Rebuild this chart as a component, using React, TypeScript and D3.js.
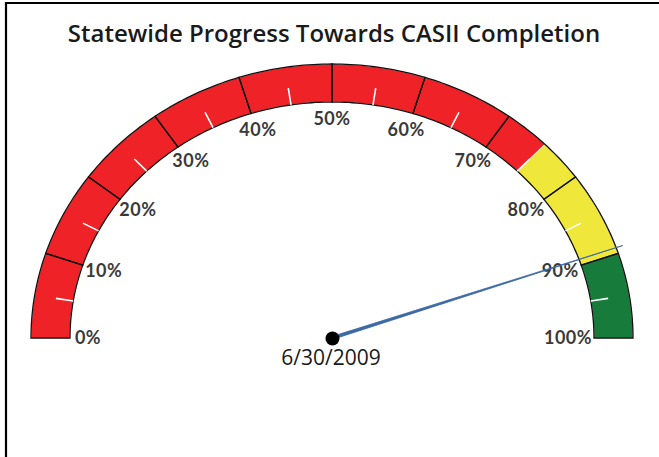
import React from "react";
import * as d3 from "d3";

const title = "Statewide Progress Towards CASII Completion";
const dateLabel = "6/30/2009";
const bandStarts = [0, 75, 90];
const bandEnds = [75, 90, 100];
const bandColors = ["#ee2227", "#efe83b", "#177b3c"];
const majorTicks = [0, 10, 20, 30, 40, 50, 60, 70, 80, 90, 100];
const tickLabels = ["0%", "10%", "20%", "30%", "40%", "50%", "60%", "70%", "80%", "90%", "100%"];
const minorTicks = [5, 15, 25, 35, 45, 55, 65, 75, 85, 95];
const needleValue = 89.3;

const W = 659;
const H = 457;
const cx = 332;
const cy = 338;
const outer = { rx: 301, ry: 274 };
const inner = { rx: 262, ry: 236 };
const labelR = { rx: 240, ry: 219 };
const FONT = "Lato, 'Open Sans', sans-serif";
const TITLE_FONT = "'Open Sans', Lato, sans-serif";

const angle = d3.scaleLinear().domain([0, 100]).range([Math.PI, 0]);

function pt(v: number, r: { rx: number; ry: number }): [number, number] {
  const a = angle(v);
  return [cx + r.rx * Math.cos(a), cy - r.ry * Math.sin(a)];
}

function lerpR(t: number) {
  return { rx: inner.rx + (outer.rx - inner.rx) * t, ry: inner.ry + (outer.ry - inner.ry) * t };
}

const line = d3.line<[number, number]>();

function sector(v0: number, v1: number): string {
  const n = Math.max(8, Math.ceil((v1 - v0) * 2));
  const vs = d3.range(n + 1).map((i) => v0 + ((v1 - v0) * i) / n);
  const pts: [number, number][] = [
    ...vs.map((v) => pt(v, outer)),
    ...vs.slice().reverse().map((v) => pt(v, inner)),
  ];
  return line(pts) + "Z";
}

export default function App() {
  const segs = d3.pairs(majorTicks);
  const na = angle(needleValue);
  const L = 308;
  const nx = cx + L * Math.cos(na);
  const ny = cy - L * (outer.ry / outer.rx) * Math.sin(na);
  const perpX = Math.sin(na) * (outer.ry / outer.rx);
  const perpY = Math.cos(na);
  const norm = Math.hypot(perpX, perpY);
  const hw = 1.5;
  const needlePts: [number, number][] = [
    [cx + (perpX / norm) * hw, cy + (perpY / norm) * hw],
    [nx, ny],
    [cx - (perpX / norm) * hw, cy - (perpY / norm) * hw],
  ];
  return (
    <svg width={W} height={H} style={{ position: "absolute", left: 0, top: 0, background: "#fff" }}>
      <rect x={0} y={0} width={W} height={H} fill="#fff" />
      <line x1={5} y1={3} x2={W} y2={3} stroke="#000" strokeWidth={2.2} />
      <line x1={6} y1={2} x2={6} y2={H} stroke="#000" strokeWidth={2.2} />
      <text x={334} y={42} textAnchor="middle" fontFamily={TITLE_FONT} fontSize={24} fontWeight={600} fill="#1a1a1a">
        {title}
      </text>
      {bandStarts.map((s, i) => (
        <path key={"b" + i} d={sector(s, bandEnds[i])} fill={bandColors[i]} stroke="#fbe9e0" strokeWidth={0.8} />
      ))}
      {segs.map(([a, b], i) => (
        <path key={"s" + i} d={sector(a, b)} fill="none" stroke="#111" strokeWidth={1.3} />
      ))}
      {minorTicks.map((v) => {
        const p0 = pt(v, inner);
        const p1 = pt(v, lerpR(0.45));
        return <line key={"m" + v} x1={p0[0]} y1={p0[1]} x2={p1[0]} y2={p1[1]} stroke="#fff" strokeWidth={1.6} />;
      })}
      {majorTicks.map((v, i) => {
        const p = pt(v, labelR);
        const shift = v === 0 ? -4 : v === 100 ? -4 : 0;
        return (
          <text key={"l" + v} x={p[0] + shift} y={p[1]} dy="0.36em" textAnchor="middle" fontFamily={FONT} fontSize={18} fontWeight={700} fill="#3a3a3a" letterSpacing={0.5}>
            {tickLabels[i]}
          </text>
        );
      })}
      <path d={line(needlePts) + "Z"} fill="#3d6aa5" stroke="#3d6aa5" strokeWidth={0.8} />
      <circle cx={cx + 0.5} cy={cy + 0.5} r={7} fill="#000" />
      <text x={331} y={365} textAnchor="middle" fontFamily={TITLE_FONT} fontSize={21} fontWeight={500} fill="#1a1a1a">
        {dateLabel}
      </text>
    </svg>
  );
}
